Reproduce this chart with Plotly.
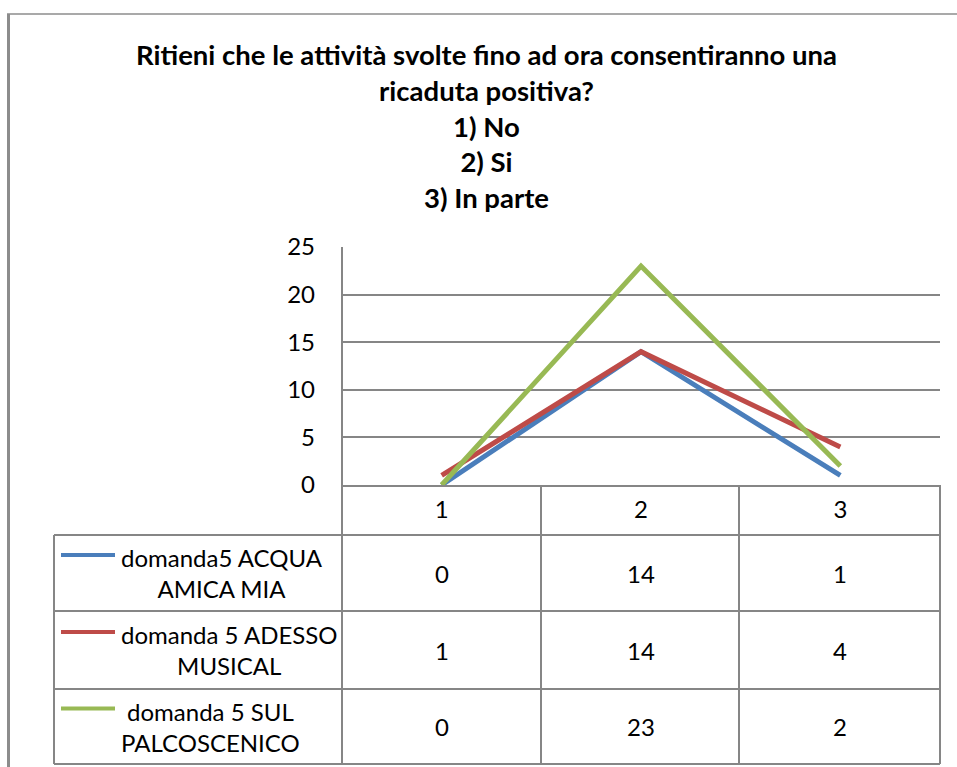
import plotly.graph_objects as go

categories = ["1", "2", "3"]
series_names = [
    "domanda5 ACQUA<br>AMICA MIA",
    "domanda 5 ADESSO<br>MUSICAL",
    "domanda 5 SUL<br>PALCOSCENICO",
]
acqua_amica_mia = [0, 14, 1]
adesso_musical = [1, 14, 4]
sul_palcoscenico = [0, 23, 2]
series_values = [acqua_amica_mia, adesso_musical, sul_palcoscenico]
colors = ["#4A7EBB", "#BE4B48", "#98B954"]
y_ticks = [0, 5, 10, 15, 20, 25]

title_text = ("<b>Ritieni che le attività svolte fino ad ora consentiranno una<br>"
              "ricaduta positiva?<br>1) No<br>2) Si<br>3) In parte</b>")

W, H = 957, 767
FONT = "Lato, Open Sans, sans-serif"
GRID = "#868686"


def px(x):
    return x / W


def py(y):
    return 1 - y / H


xs = [1, 2, 3]
fig = go.Figure()
for name, vals, col in zip(series_names, series_values, colors):
    fig.add_trace(go.Scatter(x=xs, y=vals, mode="lines", name=name,
                             line=dict(color=col, width=5), showlegend=False))

left_plot, right_plot = 342, 940
col_lines = [342, 541, 739, 940]
row_lines = [485, 535, 611, 689, 764]
legend_left = 54

shapes = []
shapes.append(dict(type="line", xref="paper", yref="paper", x0=px(7), x1=px(957), y0=py(14), y1=py(14),
                   line=dict(color="#8c8c8c", width=1.5)))
shapes.append(dict(type="line", xref="paper", yref="paper", x0=px(8.5), x1=px(8.5), y0=py(14), y1=py(767),
                   line=dict(color="#8c8c8c", width=3)))
shapes.append(dict(type="line", xref="paper", yref="paper", x0=px(left_plot), x1=px(left_plot),
                   y0=py(247), y1=py(764), line=dict(color=GRID, width=2)))
for cx in col_lines[1:]:
    shapes.append(dict(type="line", xref="paper", yref="paper", x0=px(cx), x1=px(cx),
                       y0=py(485), y1=py(764), line=dict(color=GRID, width=2)))
for ry in row_lines[1:]:
    shapes.append(dict(type="line", xref="paper", yref="paper", x0=px(legend_left), x1=px(right_plot),
                       y0=py(ry), y1=py(ry), line=dict(color=GRID, width=2)))
shapes.append(dict(type="line", xref="paper", yref="paper", x0=px(legend_left), x1=px(legend_left),
                   y0=py(535), y1=py(764), line=dict(color=GRID, width=2)))

annotations = []
row_centers = [(row_lines[i + 1] + row_lines[i + 2]) / 2 for i in range(3)]
for i, (name, vals, col) in enumerate(zip(series_names, series_values, colors)):
    yc = row_centers[i]
    shapes.append(dict(type="line", xref="paper", yref="paper", x0=px(61), x1=px(115),
                       y0=py(yc - 18), y1=py(yc - 18), line=dict(color=col, width=4)))
    annotations.append(dict(xref="paper", yref="paper", x=px(119), y=py(yc),
                            text=name, showarrow=False, xanchor="left", yanchor="middle",
                            align="center", font=dict(family=FONT, size=24, color="#000")))
    for xi, v in zip(xs, vals):
        annotations.append(dict(xref="x", yref="paper", x=xi, y=py(yc), text=str(v),
                                showarrow=False, xanchor="center", yanchor="middle",
                                font=dict(family=FONT, size=24, color="#000")))

annotations.append(dict(xref="paper", yref="paper", x=px(487), y=py(126), text=title_text,
                        showarrow=False, xanchor="center", yanchor="middle", align="center",
                        font=dict(family=FONT, size=27.5, color="#000")))

fig.update_layout(
    width=W, height=H,
    margin=dict(l=0, r=0, t=0, b=0),
    paper_bgcolor="white", plot_bgcolor="white",
    shapes=shapes, annotations=annotations,
    xaxis=dict(domain=[px(342), px(940)], range=[0.5, 3.5], tickvals=xs, ticktext=categories,
               showgrid=False, zeroline=False, showline=True, linecolor=GRID, linewidth=2,
               ticks="", ticklabelstandoff=2, automargin=False,
               tickfont=dict(family=FONT, size=24, color="#000")),
    yaxis=dict(domain=[py(485), py(247)], range=[0, 25], tickvals=y_ticks,
               showgrid=True, gridcolor=GRID, gridwidth=2, zeroline=False, showline=False,
               ticks="", ticklabelstandoff=26, automargin=False,
               tickfont=dict(family=FONT, size=24, color="#000")),
)

fig.write_html(
    "out.html",
    config={"displayModeBar": False},
    post_script="document.body.style.margin='0';document.body.style.overflow='hidden';",
)
